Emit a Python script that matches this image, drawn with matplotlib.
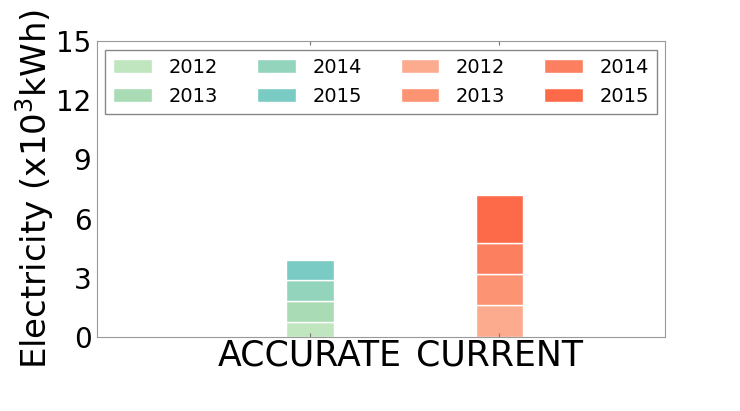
import matplotlib
matplotlib.use("Agg")
import matplotlib.pyplot as plt

# values (x10^3 kWh)
categories = ["ACCURATE", "CURRENT"]
years = ["2012", "2013", "2014", "2015"]
accurate = [0.76, 1.05, 1.06, 1.03]
current = [1.61, 1.57, 1.57, 2.46]

greens = ["#bfe6bf", "#a9dcb5", "#93d4bd", "#79cbc3"]
oranges = ["#fcab8e", "#fc9474", "#fc8060", "#fc6a4a"]

fig = plt.figure(figsize=(7.4, 4.11), dpi=100)
ax = fig.add_axes([0.131, 0.180, 0.768, 0.720])

x_pos = [1, 2]
width = 0.25

bottom = 0.0
for year, val, col in zip(years, accurate, greens):
    ax.bar(x_pos[0], val, width, bottom=bottom, align="edge", color=col,
           edgecolor="white", linewidth=1, label=year)
    bottom += val

bottom = 0.0
for year, val, col in zip(years, current, oranges):
    ax.bar(x_pos[1], val, width, bottom=bottom, align="edge", color=col,
           edgecolor="white", linewidth=1, label=year)
    bottom += val

ax.set_xlim(0, 3)
ax.set_ylim(0, 15)
ax.set_yticks([0, 3, 6, 9, 12, 15])
ax.set_xticks([p + width / 2 for p in x_pos])
ax.set_xticklabels(categories, fontsize=25)
ax.tick_params(axis="y", labelsize=20, direction="in", length=0, pad=4)
ax.tick_params(axis="x", direction="in", length=3, top=True, color="#777777", pad=1)
ax.set_ylabel("Electricity (x10$^3$kWh)", fontsize=24.5, labelpad=0)

for sp in ax.spines.values():
    sp.set_color("#999999")

leg = ax.legend(ncol=4, loc="upper center", fontsize=14, handlelength=2.0,
                handleheight=0.7, handletextpad=0.85, labelspacing=0.52,
                columnspacing=2.0, borderpad=0.4, borderaxespad=0.45,
                fancybox=False, framealpha=1)
leg.get_frame().set_edgecolor("#888888")

fig.savefig("out.png", dpi=100)
